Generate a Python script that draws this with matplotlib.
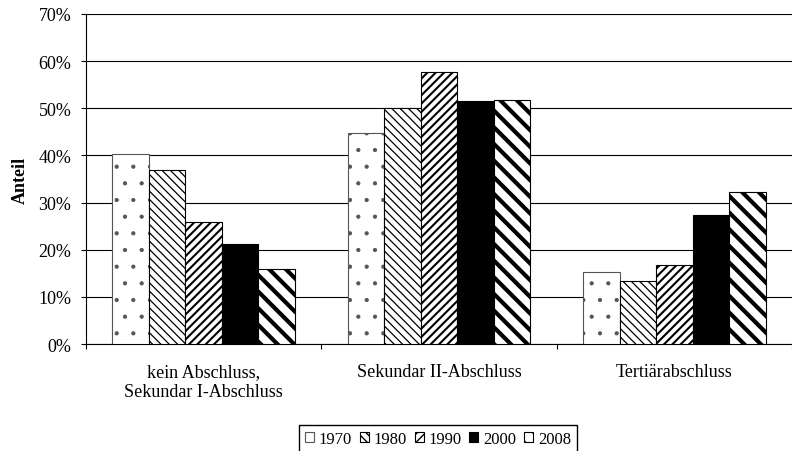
import matplotlib
matplotlib.use("Agg")
import matplotlib.pyplot as plt
from matplotlib.ticker import PercentFormatter

categories = ["kein Abschluss,\nSekundar I-Abschluss", "Sekundar II-Abschluss", "Tertiärabschluss"]
years = ["1970", "1980", "1990", "2000", "2008"]
share_1970 = [40.2, 44.7, 15.3]
share_1980 = [37.0, 50.0, 13.3]
share_1990 = [25.8, 57.6, 16.7]
share_2000 = [21.3, 51.6, 27.3]
share_2008 = [16.0, 51.8, 32.3]
series = [share_1970, share_1980, share_1990, share_2000, share_2008]

# fill, edge/hatch colour, hatch, hatch line width per year
styles = [
    ("white", "#555555", ".", 0.6),
    ("white", "black", "\\\\\\\\", 0.9),
    ("white", "black", "////", 1.5),
    ("black", "black", "", 1.0),
    ("white", "black", "\\\\", 3.0),
]

plt.rcParams["font.family"] = ["Liberation Serif", "DejaVu Serif"]
plt.rcParams["font.size"] = 13

fig = plt.figure(figsize=(7.92, 4.52), dpi=100)
ax = fig.add_axes([86 / 792, 1 - 345 / 452, 706 / 792, 330 / 452])

width = 0.155
for i, (vals, (fc, ec, hatch, hlw)) in enumerate(zip(series, styles)):
    xs = [c + (i - 2) * width for c in range(len(categories))]
    with plt.rc_context({"hatch.linewidth": hlw}):
        bars = ax.bar(xs, vals, width, color=fc, edgecolor=ec, linewidth=0.8,
                      hatch=hatch, label=years[i], zorder=3)
    for b in bars:
        if hasattr(b, "set_hatch_linewidth"):
            b.set_hatch_linewidth(hlw)

ax.set_ylim(0, 70)
ax.set_xlim(-0.5, -0.5 + 706 / 240)
ax.yaxis.set_major_formatter(PercentFormatter(decimals=0))
ax.set_yticks(range(0, 71, 10))
ax.grid(axis="y", color="black", linewidth=0.8, zorder=0)
ax.set_axisbelow(True)

ax.set_xticks(range(len(categories)))
ax.set_xticklabels(categories)
ax.set_xticks([-0.5, 0.5, 1.5, 2.5], minor=True)
ax.tick_params(axis="x", which="major", length=0, pad=14)
ax.tick_params(axis="x", which="minor", length=3.6, width=0.8, direction="out")
ax.tick_params(axis="y", length=3.6, width=0.8, direction="out", pad=7)

for side in ["top", "right"]:
    ax.spines[side].set_visible(False)
ax.spines["left"].set_linewidth(0.8)
ax.spines["bottom"].set_linewidth(0.8)

ax.set_ylabel("Anteil", fontweight="bold")
ax.yaxis.set_label_coords((29 - 86) / 706, 0.5)

fig.legend(loc="upper center", bbox_to_anchor=(438 / 792, 1 - 426 / 452), ncol=5,
           fontsize=12, frameon=True, fancybox=False, edgecolor="black", framealpha=1,
           handlelength=0.55, handleheight=0.55, handletextpad=0.3, columnspacing=0.45,
           borderpad=0.35, borderaxespad=0)

fig.savefig("out.png", dpi=100)
